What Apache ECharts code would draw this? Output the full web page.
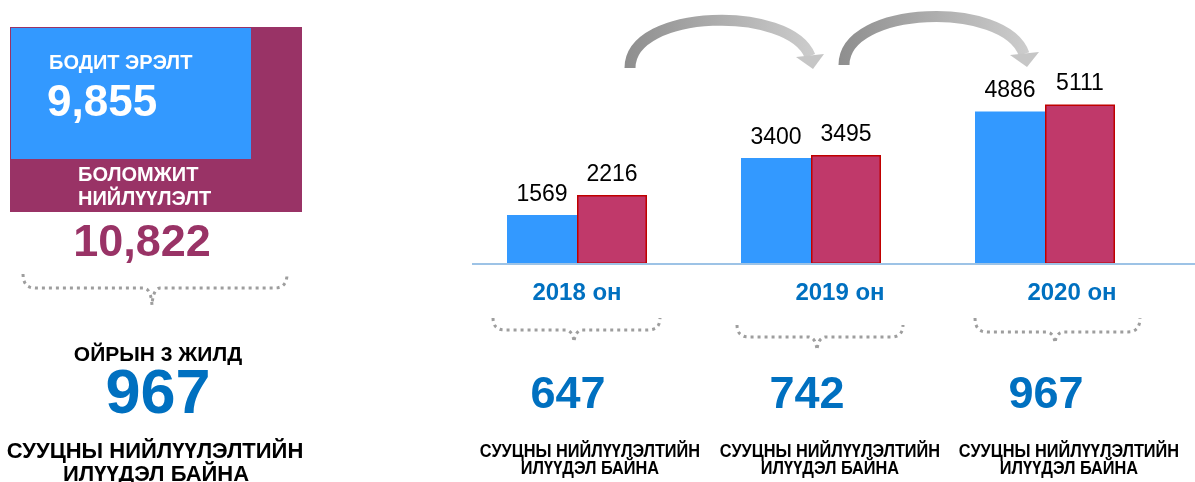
<!DOCTYPE html>
<html>
<head>
<meta charset="utf-8">
<script src="https://cdn.jsdelivr.net/npm/echarts@6/dist/echarts.min.js"></script>
<style>
  html, body { margin: 0; padding: 0; background: #fff; }
  #chart { width: 1195px; height: 482px; }
</style>
</head>
<body>
<div id="chart"></div>
<script>
// data
const years = ['2018 он', '2019 он', '2020 он'];
const realDemand = [1569, 3400, 4886];      // бодит эрэлт (blue)
const possibleSupply = [2216, 3495, 5111];  // боломжит нийлүүлэлт (red)
const surplus = [647, 742, 967];            // нийлүүлэлтийн илүүдэл
const totalDemand = '9,855';
const totalSupply = '10,822';
const threeYearSurplus = 967;

const BLUE = '#3399ff';
const RED = '#c0396a';
const PURPLE = '#993366';
const NUM_BLUE = '#0070c0';
const FONT = '"Liberation Sans", Arial, sans-serif';

const chart = echarts.init(document.getElementById('chart'));

function txt(text, x, y, size, color, align, scaleX) {
  return {
    type: 'text', x: x, y: y, z: 10, scaleX: scaleX || 1,
    style: {
      text: text, fill: color,
      fontSize: size, fontWeight: 'bold', fontFamily: FONT,
      textAlign: align || 'center', align: align || 'center',
      textVerticalAlign: 'middle', verticalAlign: 'middle'
    }
  };
}

// quadratic curve sampled for the brace outline
function quad(pts, a, c, b) {
  for (let k = 1; k <= 8; k++) {
    const t = k / 8, u = 1 - t;
    pts.push([u * u * a[0] + 2 * u * t * c[0] + t * t * b[0], u * u * a[1] + 2 * u * t * c[1] + t * t * b[1]]);
  }
}

// dotted curly brace
function brace(x1, x2, xm, yEnd, yMid, yTip) {
  const pts = [[x1, yEnd]];
  quad(pts, [x1, yEnd], [x1, yMid], [x1 + 12, yMid]);
  pts.push([xm - 8, yMid]);
  quad(pts, [xm - 8, yMid], [xm - 1, yMid + 1], [xm, yTip]);
  quad(pts, [xm, yTip], [xm + 1, yMid + 1], [xm + 8, yMid]);
  pts.push([x2 - 12, yMid]);
  quad(pts, [x2 - 12, yMid], [x2, yMid], [x2, yEnd]);
  return {
    type: 'polyline', shape: { points: pts },
    style: { fill: null, stroke: '#9e9e9e', lineWidth: 3, lineDash: [3, 4] }
  };
}

function arrow(p, head) {
  return [
    {
      type: 'bezierCurve',
      shape: { x1: p[0], y1: p[1], cpx1: p[2], cpy1: p[3], cpx2: p[4], cpy2: p[5], x2: p[6], y2: p[7] },
      style: {
        fill: null, lineWidth: 11,
        stroke: new echarts.graphic.LinearGradient(0, 0, 1, 0, [
          { offset: 0, color: '#8e8e8e' },
          { offset: 1, color: '#cdcdcd' }
        ])
      }
    },
    { type: 'polygon', shape: { points: head }, style: { fill: '#c6c6c6' } }
  ];
}

const sub1 = 'СУУЦНЫ НИЙЛҮҮЛЭЛТИЙН';
const sub2 = 'ИЛҮҮДЭЛ БАЙНА';
const yearX = [568, 807, 1046];
const subX = [590, 830, 1069];

const elements = [
  // left block
  { type: 'rect', shape: { x: 10, y: 27, width: 292, height: 185 }, style: { fill: PURPLE } },
  { type: 'rect', shape: { x: 11, y: 28, width: 240, height: 131 }, style: { fill: BLUE } },
  txt('БОДИТ ЭРЭЛТ', 49, 63, 20, '#fff', 'left'),
  txt(totalDemand, 47, 104, 44, '#fff', 'left'),
  txt('БОЛОМЖИТ', 78, 175, 20, '#fff', 'left'),
  txt('НИЙЛҮҮЛЭЛТ', 78, 199, 20, '#fff', 'left'),
  txt(totalSupply, 142, 244, 45, PURPLE),
  brace(23, 287, 152, 274, 288, 305),
  txt('ОЙРЫН 3 ЖИЛД', 158, 355, 21, '#000'),
  txt(String(threeYearSurplus), 158, 396, 63, NUM_BLUE),
  txt(sub1, 155, 452, 22, '#000'),
  txt(sub2, 156, 475, 22, '#000'),
  // baseline
  { type: 'line', shape: { x1: 472, y1: 264, x2: 1195, y2: 264 }, style: { stroke: '#9dc3e6', lineWidth: 2 }, z: 5 },
  // braces under years
  brace(493, 660, 574, 318, 330, 342),
  brace(737, 903, 817, 325, 337, 350),
  brace(975, 1140, 1055, 318, 332, 343)
].concat(
  arrow([630, 68, 630, 8, 790, 5, 810, 56], [[796, 57], [824, 54], [813, 69]]),
  arrow([844, 65, 844, 5, 1005, 0, 1024, 54], [[1010, 55], [1039, 52], [1027, 67]])
);

surplus.forEach(function (v, i) {
  elements.push(txt(String(v), yearX[i], 396, 45, NUM_BLUE));
  elements.push(txt(sub1, subX[i], 452, 19, '#000', 'center', 0.86));
  elements.push(txt(sub2, subX[i], 469, 19, '#000', 'center', 0.86));
});

const labelShift = [0, 58, 54];
const rich = {};
labelShift.forEach(function (p, i) {
  rich['c' + i] = {
    color: NUM_BLUE, fontSize: 24, fontWeight: 'bold', fontFamily: FONT,
    padding: [0, 0, 0, p]
  };
});

const valueLabel = {
  show: true,
  position: 'top',
  distance: 9,
  color: '#000',
  fontSize: 23,
  fontFamily: FONT
};

chart.setOption({
  animation: false,
  backgroundColor: '#fff',
  grid: { left: 460, right: 33, top: 80, bottom: 218 },
  xAxis: {
    type: 'category',
    data: years,
    axisLine: { show: false },
    axisTick: { show: false },
    axisLabel: {
      margin: 17,
      formatter: function (v, i) { return '{c' + i + '|' + v + '}'; },
      rich: rich
    }
  },
  yAxis: { type: 'value', min: 0, max: 5900, show: false },
  series: [
    {
      name: 'Бодит эрэлт',
      type: 'bar',
      data: realDemand,
      barWidth: 70,
      barGap: '0%',
      itemStyle: { color: BLUE },
      label: valueLabel
    },
    {
      name: 'Боломжит нийлүүлэлт',
      type: 'bar',
      data: possibleSupply,
      barWidth: 70,
      itemStyle: { color: RED, borderColor: '#c00000', borderWidth: 1.5 },
      label: valueLabel
    }
  ],
  graphic: { elements: elements }
});
</script>
</body>
</html>
